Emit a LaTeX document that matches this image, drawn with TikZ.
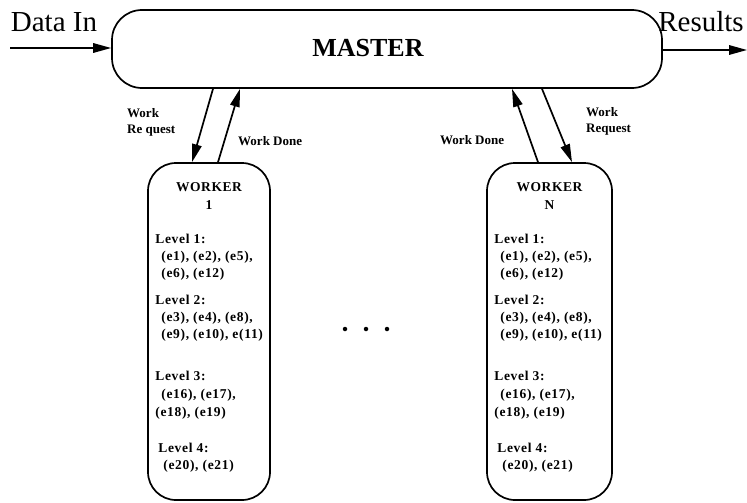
\documentclass[tikz,border=0pt]{standalone}
\usepackage{fontspec}
\setmainfont{Liberation Serif}
\usetikzlibrary{arrows.meta}
\tikzset{
  box/.style={draw, line width=1.7pt, rounded corners=28pt, inner sep=0pt},
  arr/.style={line width=1.7pt, -{Triangle[length=18pt,width=9.5pt]}},
  big/.style={font=\fontsize{29}{32}\selectfont, inner sep=0pt},
  wtitle/.style={font=\bfseries\fontsize{13.5}{15}\selectfont\addfontfeature{LetterSpace=4}, inner sep=0pt},
  wtext/.style={font=\bfseries\fontsize{13.5}{15}\selectfont\addfontfeature{LetterSpace=5}, inner sep=0pt, anchor=west},
  lbl/.style={font=\bfseries\fontsize{13}{15}\selectfont, inner sep=0pt, anchor=west},
  dot/.style={circle, fill=black, inner sep=0pt, minimum size=4.5pt}
}
\newcommand{\workertext}[2]{%
  \node[wtitle] (#1-t1) at ([yshift=-25pt]#1.north) {WORKER};
  \node[wtitle] (#1-t2) at ([yshift=-43pt]#1.north) {#2};
  \node[wtext] (#1-a0) at ([xshift=8pt,yshift=-77pt]#1.north west) {Level 1:};
  \node[wtext] (#1-a1) at ([xshift=14pt,yshift=-95pt]#1.north west) {(e1), (e2), (e5),};
  \node[wtext] (#1-a2) at ([xshift=14pt,yshift=-112pt]#1.north west) {(e6), (e12)};
  \node[wtext] (#1-b0) at ([xshift=8pt,yshift=-138pt]#1.north west) {Level 2:};
  \node[wtext] (#1-b1) at ([xshift=14pt,yshift=-156pt]#1.north west) {(e3), (e4), (e8),};
  \node[wtext] (#1-b2) at ([xshift=14pt,yshift=-173pt]#1.north west) {(e9), (e10), e(11)};
  \node[wtext] (#1-c0) at ([xshift=8pt,yshift=-214pt]#1.north west) {Level 3:};
  \node[wtext] (#1-c1) at ([xshift=14pt,yshift=-233pt]#1.north west) {(e16), (e17),};
  \node[wtext] (#1-c2) at ([xshift=8pt,yshift=-251pt]#1.north west) {(e18), (e19)};
  \node[wtext] (#1-d0) at ([xshift=11pt,yshift=-286pt]#1.north west) {Level 4:};
  \node[wtext] (#1-d1) at ([xshift=16pt,yshift=-304pt]#1.north west) {(e20), (e21)};
}
\begin{document}
\begin{tikzpicture}[x=1pt,y=-1pt]
\useasboundingbox (0,0) rectangle (747,503);
% master
\node[box, minimum width=550pt, minimum height=78pt, rounded corners=30pt] (master) at (387,49) {};
\node[font=\bfseries\fontsize{26}{28}\selectfont, inner sep=0pt] (mlabel) at (368,48) {MASTER};
% data in / results
\coordinate (din) at (10,48);
\coordinate (rout) at (747,50);
\node[big] (dinl) at (54,22) {Data In};
\node[big] (resl) at (701,22) {Results};
\draw[arr] (din) -- (master.west |- din);
\draw[arr] (master.east |- rout) -- (rout);
% workers
\node[box, minimum width=122pt, minimum height=337pt] (w1) at (209,331.5) {};
\node[box, minimum width=125pt, minimum height=337pt] (wn) at (549.5,331.5) {};
\workertext{w1}{1}
\workertext{wn}{N}
% arrows worker 1
\draw[arr] ([xshift=-174pt]master.south) -- ([xshift=-17pt]w1.north);
\draw[arr] ([xshift=9pt]w1.north) -- ([xshift=-147pt]master.south);
% arrows worker N
\draw[arr] ([xshift=-11.5pt]wn.north) -- ([xshift=125pt]master.south);
\draw[arr] ([xshift=155pt]master.south) -- ([xshift=22.5pt]wn.north);
% labels
\node[lbl] (l1a) at (127,113) {Work};
\node[lbl] (l1b) at (127,131) {Re quest};
\node[lbl] (l1c) at (238,141) {Work Done};
\node[lbl] (lna) at (440,140) {Work Done};
\node[lbl] (lnb) at (586,112) {Work};
\node[lbl] (lnc) at (586,130) {Request};
% dots
\node[dot] (d1) at (345,329) {};
\node[dot] (d2) at (366,329) {};
\node[dot] (d3) at (387,329) {};
\end{tikzpicture}
\end{document}
